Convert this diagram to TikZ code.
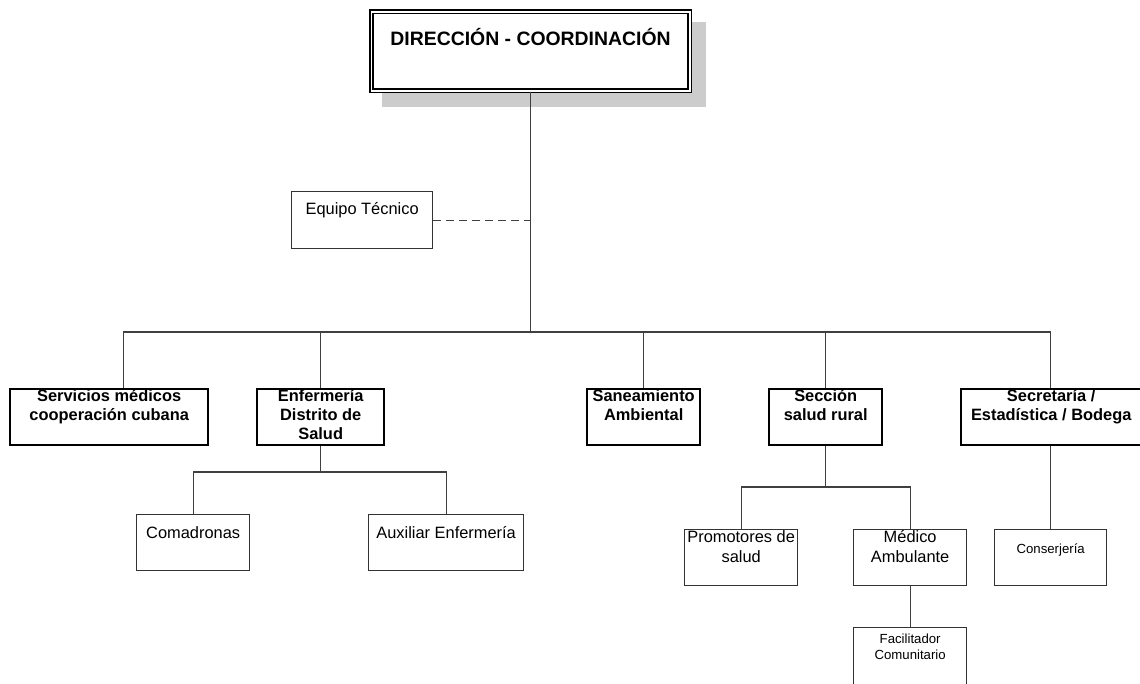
\documentclass[tikz,border=0pt]{standalone}
\usepackage{fontspec}
\setmainfont{Liberation Sans}
\begin{document}
\begin{tikzpicture}[x=1pt,y=-1pt,
  conn/.style={draw=black!75, line width=1.2pt},
  dashconn/.style={conn, dash pattern=on 8pt off 5pt},
  boxa/.style={draw=black, line width=2.4pt, fill=white, inner sep=0pt, anchor=north west},
  boxb/.style={draw=black!80, line width=1.3pt, fill=white, inner sep=0pt, anchor=north west},
  titlebox/.style={draw=black, line width=1.6pt, double=white, double distance=1.6pt, fill=white, inner sep=0pt, anchor=north west},
  shadowbox/.style={fill=black!20, draw=none},
  ttxt/.style={font=\fontsize{19.4}{23}\selectfont\bfseries, align=center, inner sep=0pt, anchor=north},
  atxt/.style={font=\fontsize{16.4}{19}\selectfont\bfseries, align=center, inner sep=0pt, anchor=north},
  btxt/.style={font=\fontsize{16.4}{20}\selectfont, align=center, inner sep=0pt, anchor=north},
  ctxt/.style={font=\fontsize{13.2}{16}\selectfont, align=center, inner sep=0pt, anchor=north}
]
\useasboundingbox (0,0) rectangle (1140,683);
\fill[white] (0,0) rectangle (1140,683);

% shadow and title
\fill[shadowbox] (382,22) rectangle (706,107);
\node[titlebox, minimum width=318.5pt, minimum height=79pt] (title) at (370.5,11) {};
\node[ttxt] (titleT) at (title.north) {\rule{0pt}{34pt}DIRECCIÓN - COORDINACIÓN};

% equipo tecnico
\node[boxb, minimum width=141pt, minimum height=57pt] (equipo) at (291,191) {};
\node[btxt] (equipoT) at (equipo.north) {\rule{0pt}{23pt}Equipo Técnico};

% level 1
\node[boxa, minimum width=198pt, minimum height=56pt] (serv) at (9,388) {};
\node[boxa, minimum width=127pt, minimum height=56pt] (enf) at (256,388) {};
\node[boxa, minimum width=113pt, minimum height=56pt] (san) at (586,388) {};
\node[boxa, minimum width=113pt, minimum height=56pt] (secc) at (768,388) {};
\node[boxa, minimum width=180pt, minimum height=56pt] (secr) at (960,388) {};
\node[atxt] (servT) at (serv.north) {\rule{0pt}{13pt}Servicios médicos\\cooperación cubana};
\node[atxt] (enfT) at (enf.north) {\rule{0pt}{13pt}Enfermería\\Distrito de\\Salud};
\node[atxt] (sanT) at (san.north) {\rule{0pt}{13pt}Saneamiento\\Ambiental};
\node[atxt] (seccT) at (secc.north) {\rule{0pt}{13pt}Sección\\salud rural};
\node[atxt] (secrT) at (secr.north) {\rule{0pt}{13pt}Secretaría /\\Estadística / Bodega};

% level 2
\node[boxb, minimum width=113pt, minimum height=56pt] (coma) at (136,514) {};
\node[boxb, minimum width=155pt, minimum height=56pt] (aux) at (368,514) {};
\node[boxb, minimum width=113pt, minimum height=56pt] (prom) at (684,529) {};
\node[boxb, minimum width=113pt, minimum height=56pt] (med) at (853,529) {};
\node[boxb, minimum width=112pt, minimum height=56pt] (cons) at (994,529) {};
\node[boxb, minimum width=113pt, minimum height=57pt] (fac) at (853,627) {};
\node[btxt] (comaT) at (coma.north) {\rule{0pt}{24pt}Comadronas};
\node[btxt] (auxT) at (aux.north) {\rule{0pt}{24pt}Auxiliar Enfermería};
\node[btxt] (promT) at (prom.north) {\rule{0pt}{13pt}Promotores de\\salud};
\node[btxt] (medT) at (med.north) {\rule{0pt}{13pt}Médico\\Ambulante};
\node[ctxt] (consT) at (cons.north) {\rule{0pt}{24pt}Conserjería};
\node[ctxt] (facT) at (fac.north) {\rule{0pt}{16pt}Facilitador\\Comunitario};

% connectors
\coordinate (bus) at (title.south |- 0,332);
\draw[conn] (title.south) -- (bus);
\draw[dashconn] (equipo.east) -- (equipo.east -| title.south);
\draw[conn] (bus) -| ([xshift=14pt]serv.north);
\draw[conn] (bus) -| (enf.north);
\draw[conn] (bus) -| (san.north);
\draw[conn] (bus) -| (secc.north);
\draw[conn] (bus) -| (cons.north |- secr.north);

\coordinate (enfbus) at (enf.south |- 0,472);
\draw[conn] (enf.south) -- (enfbus);
\draw[conn] (enfbus) -| (coma.north);
\draw[conn] (enfbus) -| (aux.north);

\coordinate (seccbus) at (secc.south |- 0,487);
\draw[conn] (secc.south) -- (seccbus);
\draw[conn] (seccbus) -| (prom.north);
\draw[conn] (seccbus) -| (med.north);

\draw[conn] (cons.north |- secr.south) -- (cons.north);
\draw[conn] (med.south) -- (fac.north);
\end{tikzpicture}
\end{document}
